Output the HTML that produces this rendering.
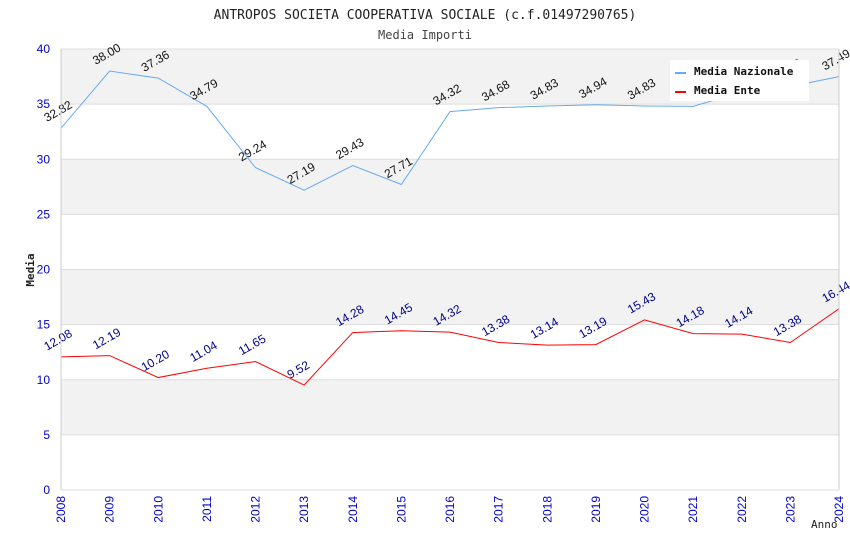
<!DOCTYPE html>
<html><head><meta charset="utf-8"><style>
body{margin:0;background:#fff;width:850px;height:550px;overflow:hidden}
svg text{font-family:"DejaVu Sans Mono","Liberation Mono",monospace}
svg text.s{font-family:"Liberation Sans",sans-serif}
</style></head><body>
<svg id="c" width="850" height="550" xmlns="http://www.w3.org/2000/svg">
<text x="425" y="19" text-anchor="middle" font-size="13" fill="#222">ANTROPOS SOCIETA COOPERATIVA SOCIALE (c.f.01497290765)</text>
<text x="425" y="39" text-anchor="middle" font-size="12" fill="#444">Media Importi</text>
<g id="grid"></g><g id="series"></g><g id="axes"></g>
<text transform="translate(34,270) rotate(-90)" text-anchor="middle" font-size="11" font-weight="bold" fill="#222">Media</text>
<text x="811" y="528" font-size="11" fill="#222">Anno</text>
<g>
<rect x="670" y="60" width="139" height="41" fill="#fff"/>
<line x1="675" y1="73" x2="686" y2="73" stroke="#66aaff" stroke-width="2"/>
<text x="694" y="75" font-size="11" font-weight="bold" fill="#111">Media Nazionale</text>
<line x1="675" y1="92" x2="686" y2="92" stroke="#ff0000" stroke-width="2"/>
<text x="694" y="94" font-size="11" font-weight="bold" fill="#111">Media Ente</text>
</g>
</svg>
<script>
const years=[2008,2009,2010,2011,2012,2013,2014,2015,2016,2017,2018,2019,2020,2021,2022,2023,2024];
const nazionale=[32.82,38.00,37.36,34.79,29.24,27.19,29.43,27.71,34.32,34.68,34.83,34.94,34.83,34.80,36.10,36.60,37.49];
const ente=[12.08,12.19,10.20,11.04,11.65,9.52,14.28,14.45,14.32,13.38,13.14,13.19,15.43,14.18,14.14,13.38,16.44];
const yTicks=[0,5,10,15,20,25,30,35,40];
const NS="http://www.w3.org/2000/svg";
const X0=61,X1=839,Y0=490,Y1=49;
const xs=i=>X0+(X1-X0)*i/(years.length-1);
const ys=v=>Y0-(Y0-Y1)*v/40;
function mk(t,a,p){const e=document.createElementNS(NS,t);for(const k in a)e.setAttribute(k,a[k]);p.appendChild(e);return e;}
const grid=document.getElementById('grid'),axes=document.getElementById('axes'),ser=document.getElementById('series');
for(let i=0;i<yTicks.length-1;i++){
 if(i%2==1){const r=mk('rect',{x:X0,y:ys(yTicks[i+1]),width:X1-X0,height:ys(yTicks[i])-ys(yTicks[i+1]),fill:'#f2f2f2'},grid);
 
 }
}
yTicks.forEach(v=>{
 const l=mk('line',{x1:X0,x2:X1,y1:ys(v),y2:ys(v),stroke:'#dddddd'},grid);
 
 
 const t=mk('text',{class:'s',x:50,y:ys(v)+4,'text-anchor':'end','font-size':12,fill:'#0000cc'},axes);
 
 
 t.textContent=v;
});
mk('line',{x1:X0,x2:X0,y1:Y1,y2:Y0,stroke:'#ccc'},axes);
mk('line',{x1:X1,x2:X1,y1:Y1,y2:Y0,stroke:'#ccc'},axes);
years.forEach((y,i)=>{
 const t=mk('text',{class:'s',transform:`translate(${xs(i)+4},${Y0+6}) rotate(-90)`,'text-anchor':'end','font-size':12,fill:'#0000cc'},axes);
 
 
 t.textContent=y;
});
function draw(vals,col,lab,name){
 const p=mk('polyline',{points:vals.map((v,i)=>xs(i)+','+ys(v)).join(' '),fill:'none',stroke:col,'stroke-width':1},ser);
 
 
 vals.forEach((v,i)=>{
  const t=mk('text',{class:'s',transform:`translate(${xs(i)-14},${ys(v)-6}) rotate(-30)`,'font-size':12,fill:lab},ser);
  
  
  t.textContent=v.toFixed(2);
 });
}
draw(nazionale,'#66aaee','#111','nazionale');
draw(ente,'#ff0000','#000088','ente');
</script>
</body></html>
